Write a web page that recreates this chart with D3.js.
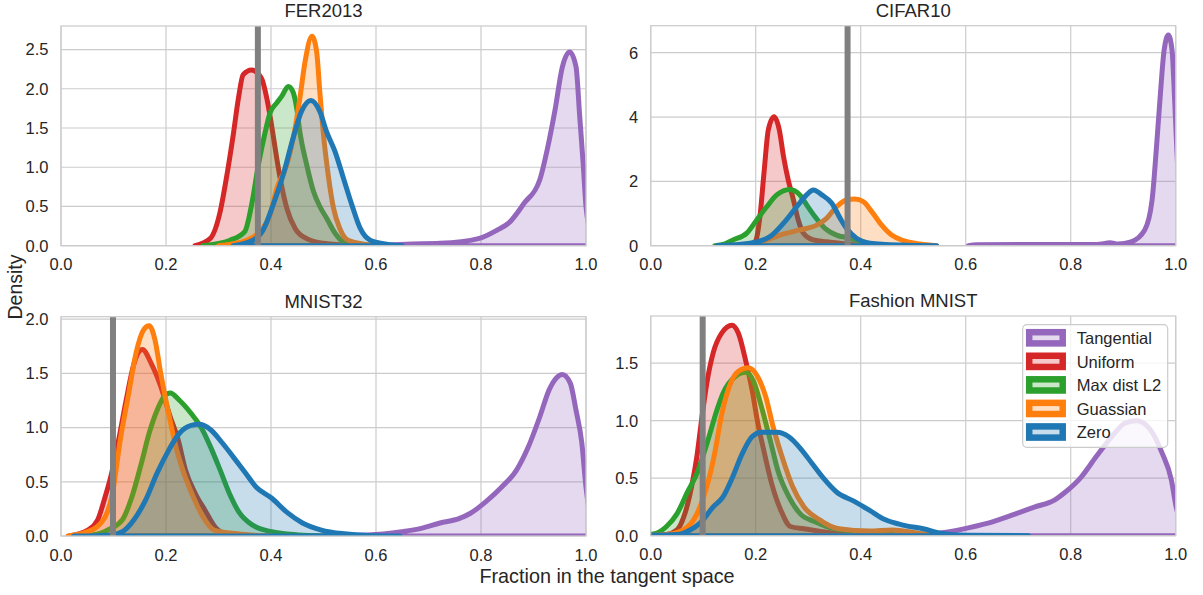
<!DOCTYPE html>
<html>
<head>
<meta charset="utf-8">
<script src="https://cdn.jsdelivr.net/npm/d3@7"></script>
<style>
  body { margin: 0; background: #fff; }
  text { font-family: 'Liberation Sans', Arial, sans-serif; fill: #262626; }
</style>
</head>
<body>
<svg width="1203" height="595"></svg>
<script>
/* global d3 */
// ---- data ----
const seriesNames = ['Tangential', 'Uniform', 'Max dist L2', 'Guassian', 'Zero']
const panelTitles = ['FER2013', 'CIFAR10', 'MNIST32', 'Fashion MNIST']
const xTicks = [0, 0.2, 0.4, 0.6, 0.8, 1.0]
const yTicksFer = [0, 0.5, 1.0, 1.5, 2.0, 2.5]
const yTicksCifar = [0, 2, 4, 6]
const yTicksMnist = [0, 0.5, 1.0, 1.5, 2.0]
const yTicksFashion = [0, 0.5, 1.0, 1.5]
const yLimits = [2.80, 6.84, 2.023, 1.91]
const referenceFrac = [0.375, 0.375, 0.099, 0.099]

// [fraction, density] pairs
const ferTangential = [[0.6, 0], [0.657, 0.02], [0.722, 0.03], [0.795, 0.09], [0.831, 0.2], [0.853, 0.29], [0.882, 0.54], [0.912, 0.84], [0.926, 1.22], [0.941, 1.73], [0.955, 2.28], [0.969, 2.47], [0.981, 2.28], [0.988, 1.65], [0.995, 1.01], [1.0, 0.5], [1.01, 0.15], [1.03, 0]]
const ferUniform = [[0.255, 0], [0.284, 0.09], [0.303, 0.43], [0.316, 0.9], [0.328, 1.41], [0.338, 1.88], [0.347, 2.18], [0.363, 2.24], [0.382, 2.13], [0.392, 1.88], [0.401, 1.54], [0.411, 1.11], [0.42, 0.77], [0.43, 0.48], [0.446, 0.22], [0.468, 0.09], [0.5, 0.03], [0.56, 0]]
const ferMaxDist = [[0.27, 0], [0.322, 0.07], [0.35, 0.18], [0.363, 0.52], [0.376, 1.03], [0.389, 1.45], [0.398, 1.69], [0.411, 1.82], [0.42, 1.9], [0.433, 2.03], [0.442, 1.96], [0.449, 1.75], [0.455, 1.45], [0.468, 1.03], [0.481, 0.69], [0.493, 0.5], [0.506, 0.35], [0.522, 0.16], [0.538, 0.05], [0.6, 0]]
const ferGaussian = [[0.30, 0], [0.354, 0.07], [0.379, 0.18], [0.398, 0.39], [0.411, 0.73], [0.43, 1.03], [0.446, 1.5], [0.455, 1.88], [0.465, 2.35], [0.478, 2.67], [0.487, 2.47], [0.493, 1.96], [0.5, 1.41], [0.509, 0.9], [0.519, 0.48], [0.531, 0.22], [0.547, 0.07], [0.6, 0]]
const ferZero = [[0.328, 0], [0.366, 0.07], [0.385, 0.2], [0.404, 0.52], [0.423, 0.9], [0.442, 1.37], [0.458, 1.71], [0.476, 1.85], [0.493, 1.71], [0.506, 1.45], [0.522, 1.2], [0.538, 0.86], [0.554, 0.52], [0.57, 0.22], [0.589, 0.07], [0.62, 0.02], [0.65, 0]]

const cifarTangential = [[0.605, 0], [0.62, 0.03], [0.75, 0.04], [0.85, 0.04], [0.875, 0.09], [0.89, 0.05], [0.915, 0.12], [0.941, 0.49], [0.955, 1.42], [0.963, 2.98], [0.97, 4.53], [0.978, 6.09], [0.986, 6.55], [0.993, 6.09], [0.998, 4.53], [1.005, 2.0], [1.015, 0.2], [1.03, 0]]
const cifarUniform = [[0.19, 0], [0.2, 0.15], [0.208, 0.9], [0.216, 2.3], [0.224, 3.6], [0.235, 4.01], [0.245, 3.6], [0.253, 2.77], [0.262, 2.04], [0.272, 1.42], [0.281, 0.8], [0.291, 0.39], [0.31, 0.18], [0.335, 0.12], [0.36, 0.08], [0.392, 0.03], [0.42, 0]]
const cifarMaxDist = [[0.122, 0], [0.14, 0.05], [0.157, 0.18], [0.183, 0.39], [0.202, 0.8], [0.221, 1.21], [0.24, 1.58], [0.265, 1.75], [0.284, 1.58], [0.297, 1.27], [0.313, 0.9], [0.332, 0.54], [0.354, 0.33], [0.38, 0.23], [0.399, 0.12], [0.43, 0]]
const cifarGaussian = [[0.15, 0], [0.19, 0.06], [0.221, 0.18], [0.246, 0.33], [0.284, 0.49], [0.316, 0.64], [0.335, 0.85], [0.354, 1.21], [0.373, 1.42], [0.389, 1.45], [0.405, 1.37], [0.421, 1.06], [0.44, 0.64], [0.459, 0.33], [0.481, 0.16], [0.513, 0.05], [0.545, 0]]
const cifarZero = [[0.126, 0], [0.189, 0.08], [0.227, 0.28], [0.253, 0.7], [0.278, 1.21], [0.297, 1.58], [0.31, 1.73], [0.326, 1.58], [0.345, 1.32], [0.361, 0.85], [0.373, 0.54], [0.392, 0.23], [0.418, 0.08], [0.475, 0.02], [0.545, 0]]

const mnistTangential = [[0.45, 0], [0.585, 0.01], [0.649, 0.04], [0.686, 0.07], [0.722, 0.12], [0.758, 0.16], [0.78, 0.21], [0.81, 0.32], [0.839, 0.45], [0.868, 0.61], [0.89, 0.82], [0.912, 1.1], [0.93, 1.35], [0.944, 1.46], [0.955, 1.49], [0.97, 1.41], [0.981, 1.16], [0.992, 0.86], [1.0, 0.45], [1.01, 0.15], [1.03, 0]]
const mnistUniform = [[0.015, 0], [0.051, 0.055], [0.07, 0.15], [0.084, 0.36], [0.095, 0.55], [0.11, 0.89], [0.124, 1.25], [0.139, 1.59], [0.155, 1.72], [0.172, 1.59], [0.19, 1.38], [0.208, 1.1], [0.223, 0.89], [0.237, 0.61], [0.256, 0.39], [0.274, 0.24], [0.296, 0.07], [0.321, 0.01], [0.36, 0]]
const mnistMaxDist = [[0.03, 0], [0.07, 0.02], [0.095, 0.07], [0.117, 0.15], [0.135, 0.36], [0.153, 0.67], [0.168, 0.95], [0.183, 1.16], [0.197, 1.29], [0.208, 1.32], [0.226, 1.25], [0.248, 1.13], [0.266, 1.01], [0.285, 0.82], [0.303, 0.61], [0.321, 0.39], [0.339, 0.22], [0.365, 0.1], [0.401, 0.04], [0.452, 0.01], [0.5, 0]]
const mnistGaussian = [[0.013, 0], [0.051, 0.04], [0.081, 0.15], [0.099, 0.42], [0.113, 0.89], [0.128, 1.29], [0.143, 1.69], [0.157, 1.9], [0.168, 1.94], [0.179, 1.81], [0.19, 1.5], [0.205, 1.13], [0.219, 0.82], [0.234, 0.58], [0.252, 0.36], [0.27, 0.18], [0.292, 0.055], [0.336, 0.02], [0.4, 0]]
const mnistZero = [[0.024, 0], [0.095, 0.01], [0.117, 0.04], [0.139, 0.15], [0.161, 0.33], [0.183, 0.58], [0.205, 0.79], [0.226, 0.95], [0.248, 1.02], [0.263, 1.03], [0.285, 0.98], [0.307, 0.86], [0.328, 0.73], [0.35, 0.59], [0.372, 0.45], [0.401, 0.35], [0.43, 0.22], [0.46, 0.12], [0.496, 0.055], [0.54, 0.02], [0.585, 0.005], [0.646, 0]]

const fashionTangential = [[0.5, 0], [0.563, 0.03], [0.607, 0.07], [0.651, 0.12], [0.695, 0.19], [0.732, 0.25], [0.769, 0.31], [0.79, 0.38], [0.82, 0.51], [0.849, 0.69], [0.878, 0.86], [0.904, 0.98], [0.926, 1.0], [0.952, 0.92], [0.974, 0.72], [0.992, 0.48], [1.0, 0.27], [1.02, 0.05], [1.04, 0]]
const fashionUniform = [[-0.02, 0], [0.03, 0.01], [0.05, 0.05], [0.065, 0.19], [0.078, 0.43], [0.088, 0.69], [0.097, 1.01], [0.107, 1.33], [0.119, 1.59], [0.135, 1.76], [0.155, 1.83], [0.167, 1.76], [0.182, 1.5], [0.193, 1.27], [0.204, 0.98], [0.215, 0.75], [0.23, 0.46], [0.248, 0.22], [0.266, 0.08], [0.292, 0.06], [0.321, 0.04], [0.373, 0.01], [0.42, 0]]
const fashionMaxDist = [[-0.03, 0], [0.01, 0.02], [0.03, 0.08], [0.05, 0.19], [0.069, 0.37], [0.088, 0.54], [0.107, 0.8], [0.126, 1.09], [0.138, 1.24], [0.16, 1.38], [0.181, 1.42], [0.197, 1.33], [0.211, 1.12], [0.226, 0.86], [0.244, 0.54], [0.263, 0.34], [0.285, 0.19], [0.314, 0.12], [0.351, 0.06], [0.402, 0.035], [0.46, 0.01], [0.55, 0]]
const fashionGaussian = [[-0.02, 0], [0.03, 0.01], [0.062, 0.05], [0.088, 0.19], [0.107, 0.43], [0.122, 0.72], [0.135, 1.05], [0.15, 1.3], [0.167, 1.43], [0.186, 1.46], [0.204, 1.38], [0.219, 1.21], [0.233, 0.95], [0.252, 0.66], [0.27, 0.43], [0.292, 0.25], [0.321, 0.14], [0.358, 0.06], [0.417, 0.04], [0.46, 0.05], [0.512, 0.02], [0.6, 0]]
const fashionZero = [[-0.05, 0], [0.05, 0.01], [0.075, 0.05], [0.094, 0.11], [0.119, 0.25], [0.138, 0.34], [0.156, 0.51], [0.175, 0.72], [0.193, 0.86], [0.211, 0.9], [0.241, 0.9], [0.263, 0.86], [0.285, 0.76], [0.307, 0.63], [0.329, 0.5], [0.354, 0.38], [0.387, 0.3], [0.417, 0.22], [0.446, 0.14], [0.483, 0.09], [0.519, 0.06], [0.556, 0.02], [0.6, 0.005], [0.72, 0]]

// ---- style ----
const seriesColors = ['#9467bd', '#d62728', '#2ca02c', '#ff7f0e', '#1f77b4']
const gridC = '#cccccc'
const refLineC = '#808080'

const panelCurves = [
  [ferTangential, ferUniform, ferMaxDist, ferGaussian, ferZero],
  [cifarTangential, cifarUniform, cifarMaxDist, cifarGaussian, cifarZero],
  [mnistTangential, mnistUniform, mnistMaxDist, mnistGaussian, mnistZero],
  [fashionTangential, fashionUniform, fashionMaxDist, fashionGaussian, fashionZero]
]
const panelYTicks = [yTicksFer, yTicksCifar, yTicksMnist, yTicksFashion]
const yFormats = [d3.format('.1f'), d3.format('d'), d3.format('.1f'), d3.format('.1f')]

const boxes = [
  { left: 61, right: 586, top: 26, bottom: 245.7 },
  { left: 650.7, right: 1175.7, top: 25.7, bottom: 245.7 },
  { left: 61, right: 586, top: 316.7, bottom: 536 },
  { left: 650.7, right: 1175.7, top: 316, bottom: 535.7 }
]

const svg = d3.select('svg')
const defs = svg.append('defs')

function lighten (c) {
  // alpha .25 over white
  const rgb = d3.rgb(c)
  return d3.rgb(rgb.r * 0.25 + 191.25, rgb.g * 0.25 + 191.25, rgb.b * 0.25 + 191.25)
}

boxes.forEach((b, i) => {
  const x = d3.scaleLinear().domain([0, 1]).range([b.left, b.right])
  const y = d3.scaleLinear().domain([0, yLimits[i]]).range([b.bottom, b.top])
  const g = svg.append('g').attr('class', 'panel')

  defs.append('clipPath').attr('id', 'clip' + i)
    .append('rect')
    .attr('x', b.left).attr('y', b.top)
    .attr('width', b.right - b.left).attr('height', b.bottom - b.top)

  // grid
  g.append('g').selectAll('line')
    .data(xTicks).enter().append('line')
    .attr('x1', d => x(d)).attr('x2', d => x(d))
    .attr('y1', b.top).attr('y2', b.bottom)
    .attr('stroke', gridC).attr('stroke-width', 1.2)
  g.append('g').selectAll('line')
    .data(panelYTicks[i]).enter().append('line')
    .attr('x1', b.left).attr('x2', b.right)
    .attr('y1', d => y(d)).attr('y2', d => y(d))
    .attr('stroke', gridC).attr('stroke-width', 1.2)

  // kde curves, filled polygons outlined like fill_between
  const area = d3.area()
    .x(d => x(d[0]))
    .y0(y(0))
    .y1(d => y(d[1]))
    .curve(d3.curveMonotoneX)

  const curves = g.append('g').attr('clip-path', 'url(#clip' + i + ')')
  panelCurves[i].forEach((pts, k) => {
    curves.append('path')
      .datum(pts)
      .attr('d', area)
      .attr('fill', seriesColors[k])
      .attr('fill-opacity', 0.25)
      .attr('stroke', seriesColors[k])
      .attr('stroke-width', 5)
      .attr('stroke-linejoin', 'round')
  })

  // reference line
  curves.append('line')
    .attr('x1', x(referenceFrac[i])).attr('x2', x(referenceFrac[i]))
    .attr('y1', b.top).attr('y2', b.bottom)
    .attr('stroke', refLineC).attr('stroke-width', 6)

  // spines
  g.append('rect')
    .attr('x', b.left).attr('y', b.top)
    .attr('width', b.right - b.left).attr('height', b.bottom - b.top)
    .attr('fill', 'none').attr('stroke', gridC).attr('stroke-width', 1.25)

  // tick labels
  g.append('g').selectAll('text')
    .data(xTicks).enter().append('text')
    .attr('x', d => x(d)).attr('y', b.bottom + 24.5)
    .attr('text-anchor', 'middle')
    .style('font-size', '16.5px')
    .text(d3.format('.1f'))
  g.append('g').selectAll('text')
    .data(panelYTicks[i]).enter().append('text')
    .attr('x', b.left - 12.5).attr('y', d => y(d) + 5.9)
    .attr('text-anchor', 'end')
    .style('font-size', '16.5px')
    .text(yFormats[i])

  g.append('text')
    .attr('x', (b.left + b.right) / 2).attr('y', b.top - 9)
    .attr('text-anchor', 'middle')
    .style('font-size', '18.5px')
    .text(panelTitles[i])
})

// axis labels
svg.append('text')
  .attr('x', 607).attr('y', 582.5)
  .attr('text-anchor', 'middle')
  .style('font-size', '19.8px')
  .text('Fraction in the tangent space')
svg.append('text')
  .attr('transform', 'translate(21.5,287) rotate(-90)')
  .attr('text-anchor', 'middle')
  .style('font-size', '19.5px')
  .text('Density')

// legend in the last panel
const legend = svg.append('g').attr('transform', 'translate(1022.7,324.7)')
legend.append('rect')
  .attr('width', 145).attr('height', 122.6)
  .attr('rx', 4)
  .attr('fill', '#fff').attr('fill-opacity', 0.8)
  .attr('stroke', gridC).attr('stroke-width', 1.2)
const rows = legend.selectAll('g.row')
  .data(seriesNames).enter().append('g')
  .attr('class', 'row')
  .attr('transform', (d, k) => 'translate(0,' + (13.1 + k * 23.55) + ')')
rows.append('rect')
  .attr('x', 6.5).attr('y', -5.6)
  .attr('width', 33.5).attr('height', 11.2)
  .attr('fill', (d, k) => lighten(seriesColors[k]))
  .attr('stroke', (d, k) => seriesColors[k])
  .attr('stroke-width', 6.5)
rows.append('text')
  .attr('x', 54).attr('y', 6.3)
  .style('font-size', '16.5px')
  .text(d => d)
</script>
</body>
</html>
